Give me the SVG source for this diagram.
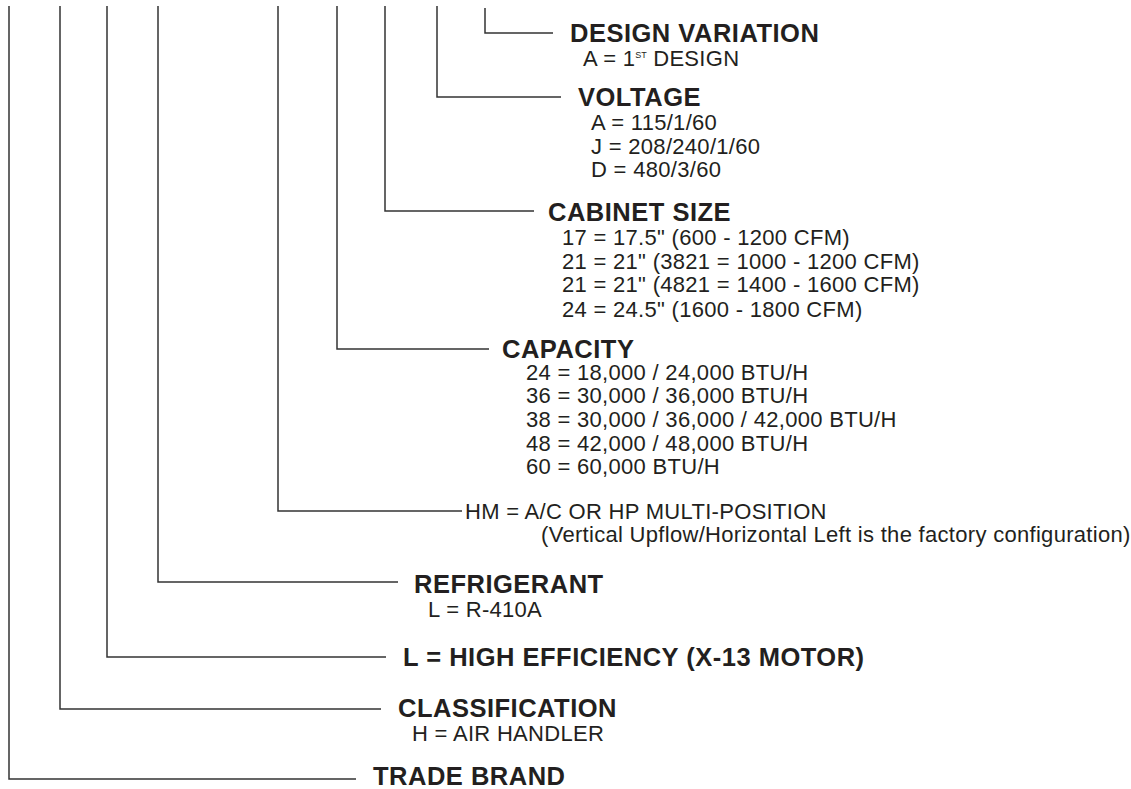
<svg xmlns="http://www.w3.org/2000/svg" width="1131" height="789" viewBox="0 0 1131 789">
<style>
.ln{fill:none;stroke:#333;stroke-width:1.5}
.h{font-family:"Liberation Sans",Arial,sans-serif;font-weight:bold;font-size:25.5px;letter-spacing:0.5px;fill:#231f20}
.t{font-family:"Liberation Sans",Arial,sans-serif;font-size:22px;letter-spacing:0.3px;fill:#231f20}
.s{font-size:9px;letter-spacing:0}
</style>
<rect width="1131" height="789" fill="#fff"/>
<g id="connectors">
<polyline class="ln" points="9,6 9,779 356,779"/>
<polyline class="ln" points="60,6 60,709 381,709"/>
<polyline class="ln" points="107,6 107,657 386,657"/>
<polyline class="ln" points="158,6 158,582 398,582"/>
<polyline class="ln" points="278,6 278,511 462,511"/>
<polyline class="ln" points="337,6 337,349 489,349"/>
<polyline class="ln" points="385,6 385,211 534,211"/>
<polyline class="ln" points="437,6 437,97 561,97"/>
<polyline class="ln" points="485,8 485,33 553,33"/>
</g>
<g id="design-variation">
<text class="h" x="570" y="42">DESIGN VARIATION</text>
<text class="t" x="583" y="66">A = 1<tspan class="s" dy="-8">ST</tspan><tspan dy="8"> DESIGN</tspan></text>
</g>
<g id="voltage">
<text class="h" x="578" y="106">VOLTAGE</text>
<text class="t" x="591" y="130">A = 115/1/60</text>
<text class="t" x="591" y="154">J = 208/240/1/60</text>
<text class="t" x="591" y="177">D = 480/3/60</text>
</g>
<g id="cabinet-size">
<text class="h" x="548" y="221">CABINET SIZE</text>
<text class="t" x="562" y="245">17 = 17.5" (600 - 1200 CFM)</text>
<text class="t" x="562" y="269">21 = 21" (3821 = 1000 - 1200 CFM)</text>
<text class="t" x="562" y="292">21 = 21" (4821 = 1400 - 1600 CFM)</text>
<text class="t" x="562" y="317">24 = 24.5" (1600 - 1800 CFM)</text>
</g>
<g id="capacity">
<text class="h" x="502" y="358">CAPACITY</text>
<text class="t" x="526" y="380">24 = 18,000 / 24,000 BTU/H</text>
<text class="t" x="526" y="403">36 = 30,000 / 36,000 BTU/H</text>
<text class="t" x="526" y="427">38 = 30,000 / 36,000 / 42,000 BTU/H</text>
<text class="t" x="526" y="451">48 = 42,000 / 48,000 BTU/H</text>
<text class="t" x="526" y="474">60 = 60,000 BTU/H</text>
</g>
<g id="configuration">
<text class="t" x="465" y="519">HM = A/C OR HP MULTI-POSITION</text>
<text class="t" x="541" y="542">(Vertical Upflow/Horizontal Left is the factory configuration)</text>
</g>
<g id="refrigerant">
<text class="h" x="414" y="593">REFRIGERANT</text>
<text class="t" x="428" y="617">L = R-410A</text>
</g>
<g id="efficiency">
<text class="h" x="403" y="666">L = HIGH EFFICIENCY (X-13 MOTOR)</text>
</g>
<g id="classification">
<text class="h" x="398" y="717">CLASSIFICATION</text>
<text class="t" x="412" y="741">H = AIR HANDLER</text>
</g>
<g id="trade-brand">
<text class="h" x="373" y="785">TRADE BRAND</text>
</g>
</svg>
